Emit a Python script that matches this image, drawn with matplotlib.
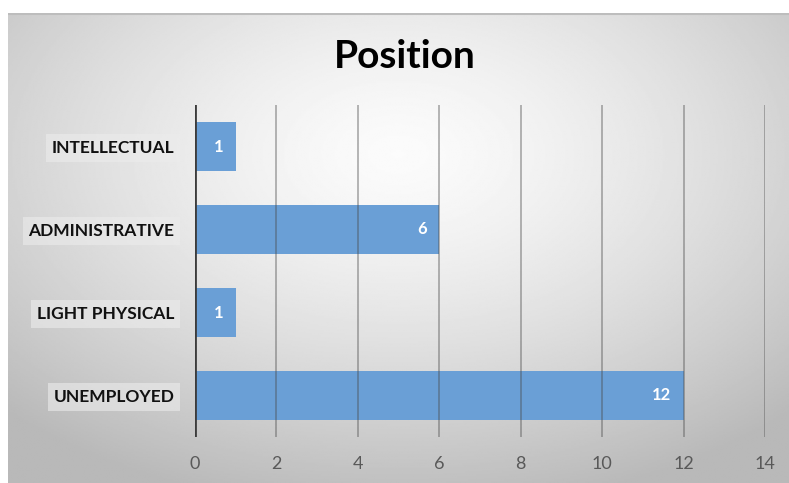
import numpy as np
import matplotlib.pyplot as plt

# data
categories = ['UNEMPLOYED', 'LIGHT PHYSICAL', 'ADMINISTRATIVE', 'INTELLECTUAL']
counts = [12, 1, 6, 1]
xticks = [0, 2, 4, 6, 8, 10, 12, 14]
title = 'Position'

plt.rcParams['font.family'] = ['Lato', 'DejaVu Sans']

fig = plt.figure(figsize=(7.89, 4.83), dpi=100)
fig.patch.set_facecolor('white')

# radial gradient background panel
bg = fig.add_axes([8 / 789, 0, 1 - 8 / 789, 1 - 13 / 483])
bg.set_axis_off()
yy, xx = np.mgrid[-1:1:300j, -1:1:500j]
r = np.sqrt((xx * 0.9) ** 2 + ((yy + 0.4) * 0.85) ** 2)
shade = 0.985 - 0.18 * np.clip(r, 0, 1.3) ** 1.4
bg.imshow(shade, cmap='gray', vmin=0, vmax=1, aspect='auto', extent=[0, 1, 0, 1])
bg.plot([0, 1], [0.997, 0.997], color='#bdbdbd', lw=1.5)
bg.set_xlim(0, 1)
bg.set_ylim(0, 1)

ax = fig.add_axes([195 / 789, 1 - 437 / 483, 570 / 789, 332 / 483])
ax.patch.set_alpha(0)
y = np.arange(len(categories))
bars = ax.barh(y, counts, height=0.6, color='#6a9fd6', zorder=2)
for xv in xticks[1:]:
    ax.axvline(xv, color='#4a4a4a', alpha=0.5, lw=1.1, zorder=3)
ax.axvline(0, color='#3c3c3c', lw=2, zorder=4)

for b, v in zip(bars, counts):
    ax.text(b.get_width() - 0.3, b.get_y() + b.get_height() / 2, str(v),
            ha='right', va='center', color='white', fontweight='bold',
            fontsize=12, zorder=5)

ax.set_xlim(0, 14)
ax.set_ylim(-0.5, 3.5)
ax.set_xticks(xticks)
ax.set_yticks(y)
ax.set_yticklabels(categories, fontweight='bold', fontsize=12.5, color='#111111')
for lab in ax.get_yticklabels():
    lab.set_bbox(dict(facecolor='#ececec', edgecolor='none', alpha=0.6, pad=4))
ax.tick_params(axis='y', length=0, pad=15)
ax.tick_params(axis='x', length=0, pad=14, labelsize=13, labelcolor='#595959')
for s in ax.spines.values():
    s.set_visible(False)

fig.text(405 / 789, 1 - 56 / 483, title, ha='center', va='center',
         fontsize=28, fontweight='bold', color='black')

fig.savefig('out.png', dpi=100)
